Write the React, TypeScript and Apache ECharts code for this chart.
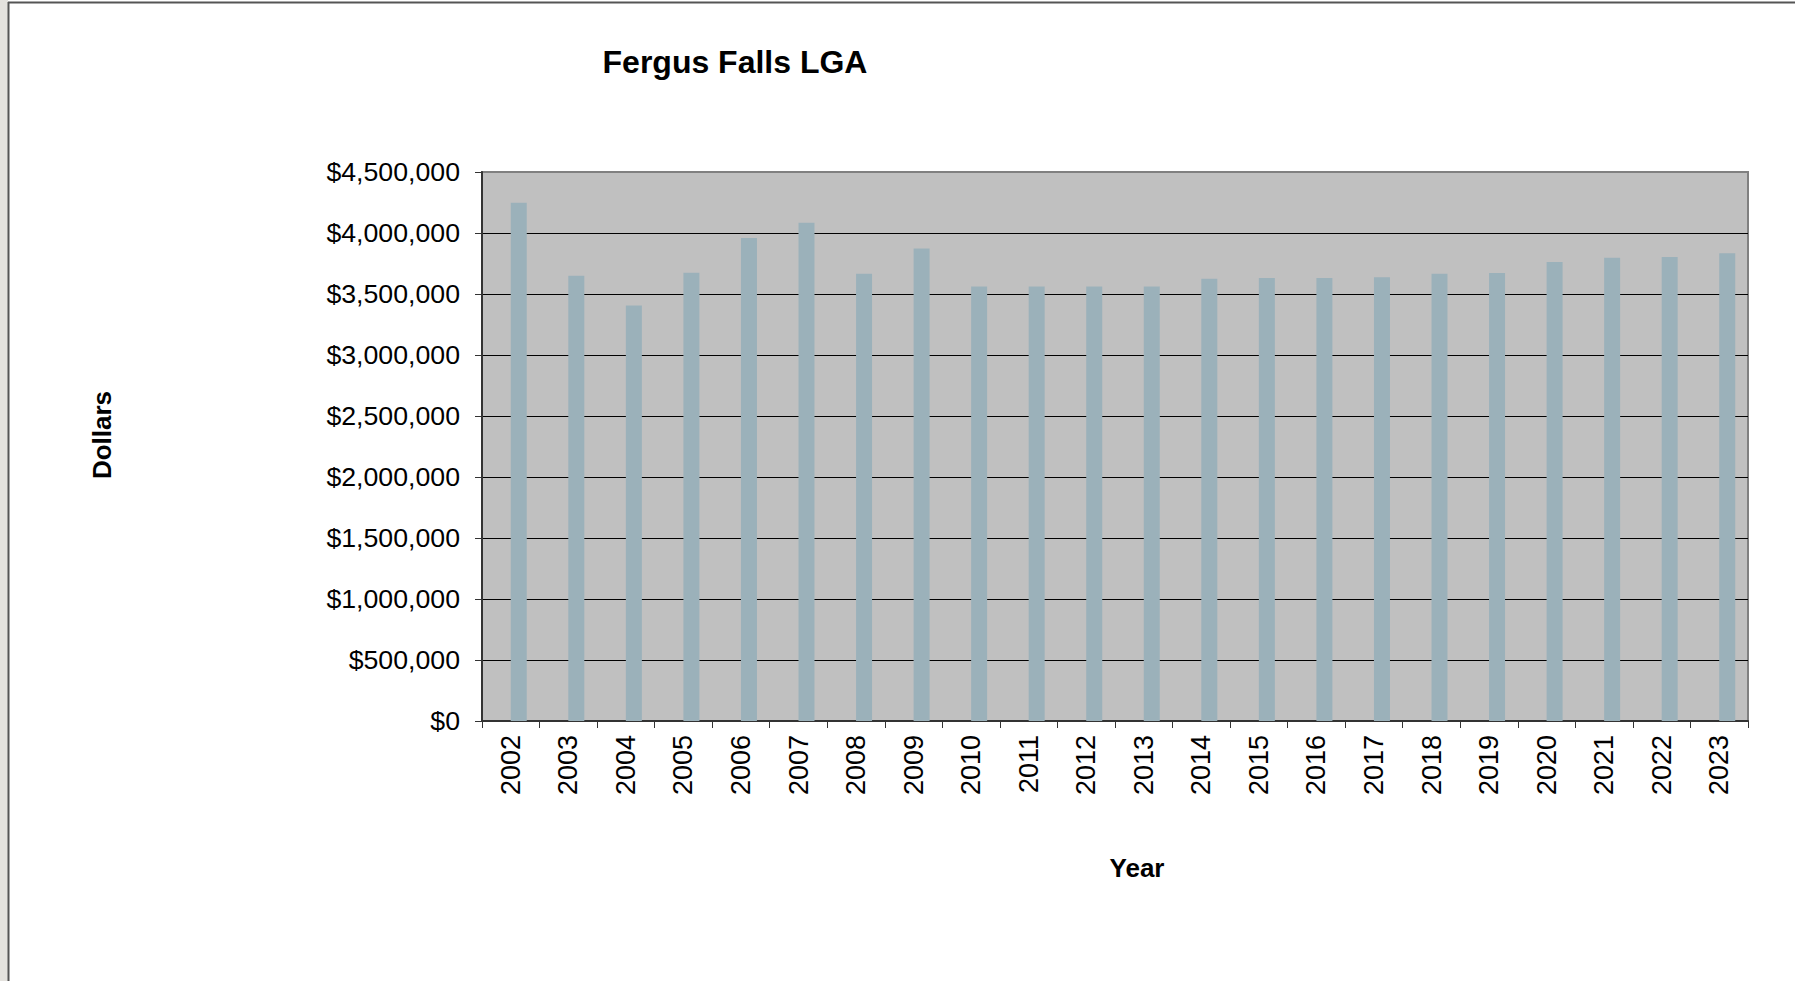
import React, { useEffect, useRef } from "react";
import * as echarts from "echarts";

const years = ["2002","2003","2004","2005","2006","2007","2008","2009","2010","2011","2012","2013","2014","2015","2016","2017","2018","2019","2020","2021","2022","2023"];
const dollars = [4248000, 3650000, 3405000, 3675000, 3960000, 4083000, 3665000, 3872000, 3562000, 3562000, 3562000, 3562000, 3624000, 3632000, 3632000, 3638000, 3667000, 3672000, 3763000, 3797000, 3804000, 3834000];
const emptySeries = years.map(() => null);

export default function App() {
  const ref = useRef<HTMLDivElement>(null);
  useEffect(() => {
    if (!ref.current) return;
    const chart = echarts.init(ref.current, null, { renderer: "svg" });
    const font = "Liberation Sans, Arial, sans-serif";
    chart.setOption({
      animation: false,
      backgroundColor: "#ffffff",
      graphic: [
        { type: "rect", shape: { x: 0, y: 0, width: 8, height: 981 }, style: { fill: "#e4e2de" } },
        { type: "line", shape: { x1: 8.5, y1: 2, x2: 8.5, y2: 981 }, style: { stroke: "#555", lineWidth: 2 } },
        { type: "line", shape: { x1: 8, y1: 2.5, x2: 1795, y2: 2.5 }, style: { stroke: "#555", lineWidth: 2 } },
        {
          type: "text", x: 735, y: 62,
          style: { text: "Fergus Falls LGA", fontFamily: font, fontSize: 32, fontWeight: "bold", fill: "#000", align: "center", verticalAlign: "middle" },
        },
        {
          type: "text", x: 1137, y: 868,
          style: { text: "Year", fontFamily: font, fontSize: 26, fontWeight: "bold", fill: "#000", align: "center", verticalAlign: "middle" },
        },
        {
          type: "text", x: 102, y: 435, rotation: Math.PI / 2,
          style: { text: "Dollars", fontFamily: font, fontSize: 26, fontWeight: "bold", fill: "#000", align: "center", verticalAlign: "middle" },
        },
      ],
      grid: {
        left: 482,
        top: 172,
        right: 47,
        bottom: 260,
        show: true,
        backgroundColor: "#c0c0c0",
        borderColor: "#808080",
        borderWidth: 2,
      },
      xAxis: {
        type: "category",
        data: years,
        axisLine: { show: true, lineStyle: { color: "#333", width: 2 } },
        axisTick: { show: true, length: 7, alignWithLabel: false, lineStyle: { color: "#333" } },
        axisLabel: { rotate: 90, margin: 14, fontFamily: font, fontSize: 27, color: "#000", interval: 0 },
        splitLine: { show: false },
      },
      yAxis: {
        type: "value",
        min: 0,
        max: 4500000,
        interval: 500000,
        axisLine: { show: true, lineStyle: { color: "#333", width: 2 } },
        axisTick: { show: true, length: 7, lineStyle: { color: "#333" } },
        axisLabel: {
          margin: 22,
          fontFamily: font,
          fontSize: 26.7,
          color: "#000",
          formatter: (v: number) => "$" + v.toLocaleString("en-US"),
        },
        splitLine: { show: true, showMaxLine: false, lineStyle: { color: "#000", width: 1 } },
      },
      series: [
        { type: "bar", name: "", data: emptySeries, barWidth: 16, barGap: "0%", silent: true },
        { type: "bar", name: "Dollars", data: dollars, barWidth: 16, barGap: "0%", itemStyle: { color: "#9bb1ba" } },
      ],
    });
    return () => chart.dispose();
  }, []);
  return <div ref={ref} style={{ position: "fixed", left: 0, top: 0, width: 1795, height: 981 }} />;
}
